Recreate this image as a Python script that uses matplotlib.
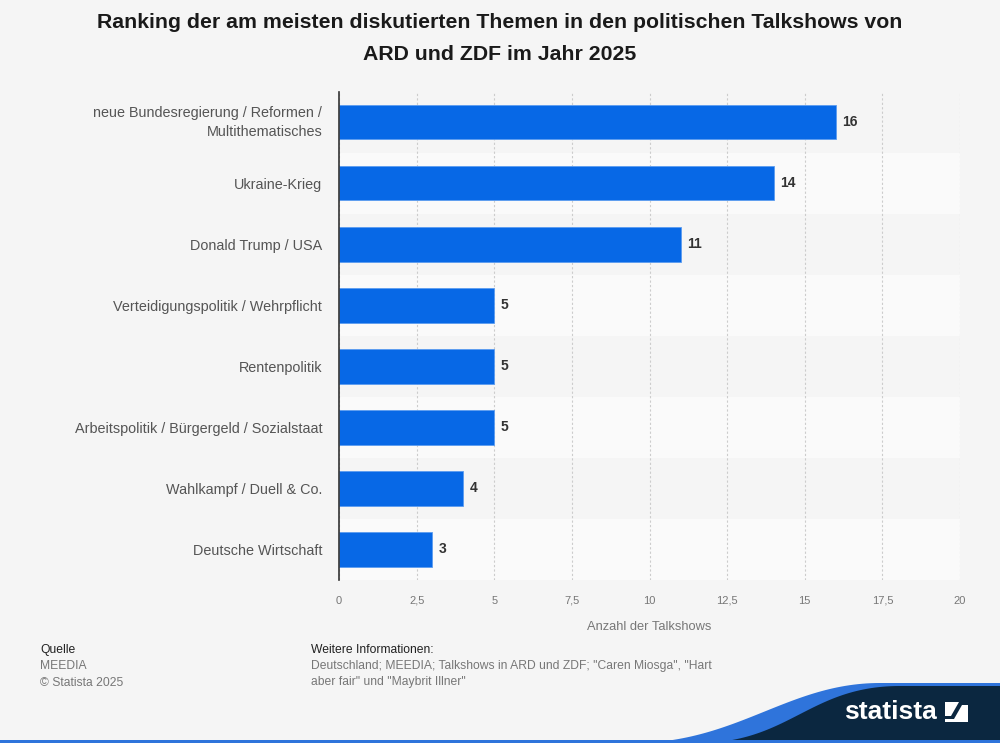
import numpy as np
import matplotlib
matplotlib.use("Agg")
import matplotlib.pyplot as plt
from matplotlib.patches import Polygon, Rectangle
from matplotlib.ticker import FuncFormatter

# data
topics = [
    "neue Bundesregierung / Reformen /\nMultithematisches",
    "Ukraine-Krieg",
    "Donald Trump / USA",
    "Verteidigungspolitik / Wehrpflicht",
    "Rentenpolitik",
    "Arbeitspolitik / Bürgergeld / Sozialstaat",
    "Wahlkampf / Duell & Co.",
    "Deutsche Wirtschaft",
]
talkshows = [16, 14, 11, 5, 5, 5, 4, 3]
x_ticks = [0, 2.5, 5, 7.5, 10, 12.5, 15, 17.5, 20]

plt.rcParams['font.family'] = ['Liberation Sans', 'DejaVu Sans']

bg = '#f5f5f5'
fig = plt.figure(figsize=(10, 7.43), dpi=100, facecolor=bg)

# title
fig.text(0.5, 1 - 22 / 743, "Ranking der am meisten diskutierten Themen in den politischen Talkshows von",
         ha='center', va='center', fontsize=15.3, fontweight='bold', color='#1a1a1a')
fig.text(0.5, 1 - 54 / 743, "ARD und ZDF im Jahr 2025",
         ha='center', va='center', fontsize=15.3, fontweight='bold', color='#1a1a1a')

ax = fig.add_axes([339 / 1000, 1 - 580 / 743, 621 / 1000, 488.5 / 743])
ax.set_facecolor(bg)

y = np.arange(len(topics))
for i in y:
    if i % 2 == 1:
        ax.axhspan(i - 0.5, i + 0.5, color='#fafafa', zorder=0, lw=0)

ax.barh(y, talkshows, height=0.57, color='#0768e6', edgecolor='#5b9cf0', linewidth=0.6, zorder=3)
for yi, v in zip(y, talkshows):
    ax.annotate(str(v), (v, yi), xytext=(4.5, 0), textcoords='offset points',
                ha='left', va='center', fontsize=10, fontweight='bold', color='#333333', zorder=4)

ax.set_xlim(0, 20)
ax.set_ylim(len(topics) - 0.5, -0.5)
ax.set_xticks(x_ticks)
ax.xaxis.set_major_formatter(FuncFormatter(lambda v, pos: ('%g' % v).replace('.', ',')))
ax.set_yticks(y)
ax.set_yticklabels(topics, fontsize=10.4, color='#555555', linespacing=1.45)
for lbl in ax.get_yticklabels():
    if '\n' in lbl.get_text():
        lbl.set_verticalalignment('center')
ax.tick_params(axis='y', length=0, pad=12)
ax.tick_params(axis='x', length=0, pad=17, labelsize=8, labelcolor='#777777')
for lbl in ax.get_xticklabels():
    lbl.set_verticalalignment('baseline')
ax.grid(axis='x', linestyle=(0, (2, 2)), color='#cccccc', linewidth=0.8, zorder=1)
for s in ['top', 'right', 'bottom']:
    ax.spines[s].set_visible(False)
ax.spines['left'].set_color('#333333')
ax.spines['left'].set_linewidth(1.2)
ax.spines['left'].set_zorder(5)
ax.set_xlabel("Anzahl der Talkshows", fontsize=9.3, color='#777777', labelpad=11)

# footer
fs = 8.7
fig.text(40 / 1000, 1 - 650 / 743, "Quelle", fontsize=fs, color='#222222', va='center')
fig.text(40 / 1000, 1 - 666 / 743, "MEEDIA", fontsize=fs, color='#777777', va='center')
fig.text(40 / 1000, 1 - 683 / 743, "© Statista 2025", fontsize=fs, color='#777777', va='center')
fig.text(311 / 1000, 1 - 650 / 743, "Weitere Informationen:", fontsize=fs, color='#222222', va='center')
fig.text(311 / 1000, 1 - 666 / 743, 'Deutschland; MEEDIA; Talkshows in ARD und ZDF; "Caren Miosga", "Hart',
         fontsize=fs, color='#777777', va='center')
fig.text(311 / 1000, 1 - 682 / 743, 'aber fair" und "Maybrit Illner"',
         fontsize=fs, color='#777777', va='center')

# statista logo band in pixel coordinates
lx = fig.add_axes([0, 0, 1, 1], facecolor='none')
lx.set_xlim(0, 1000)
lx.set_ylim(743, 0)
lx.axis('off')


def bez(p0, p1, p2, p3, n=60):
    t = np.linspace(0, 1, n)[:, None]
    return ((1 - t) ** 3) * p0 + 3 * ((1 - t) ** 2) * t * p1 + 3 * (1 - t) * t ** 2 * p2 + t ** 3 * p3


blue_curve = bez(np.array([640, 743]), np.array([740, 740]), np.array([790, 683]), np.array([880, 683]))
blue = np.vstack([blue_curve, [[1000, 683], [1000, 743]]])
lx.add_patch(Polygon(blue, closed=True, color='#2f74db', lw=0))
navy_curve = bez(np.array([700, 743]), np.array([790, 742]), np.array([810, 686]), np.array([900, 686]))
navy = np.vstack([navy_curve, [[1000, 686], [1000, 743]]])
lx.add_patch(Polygon(navy, closed=True, color='#0b2740', lw=0))
lx.add_patch(Rectangle((0, 739.5), 1000, 4, color='#2f74db', lw=0))
lx.text(890, 712, "statista", ha='center', va='center', fontsize=19, fontweight='bold', color='white')
lx.add_patch(Rectangle((945, 702), 23, 20, color='white', lw=0))
lx.add_patch(Polygon([[945, 719], [954, 719], [962, 705], [968, 705], [968, 702], [959, 702], [951, 716], [945, 716]],
                     closed=True, color='#0b2740', lw=0))

fig.savefig("out.png", dpi=100, facecolor=bg)
